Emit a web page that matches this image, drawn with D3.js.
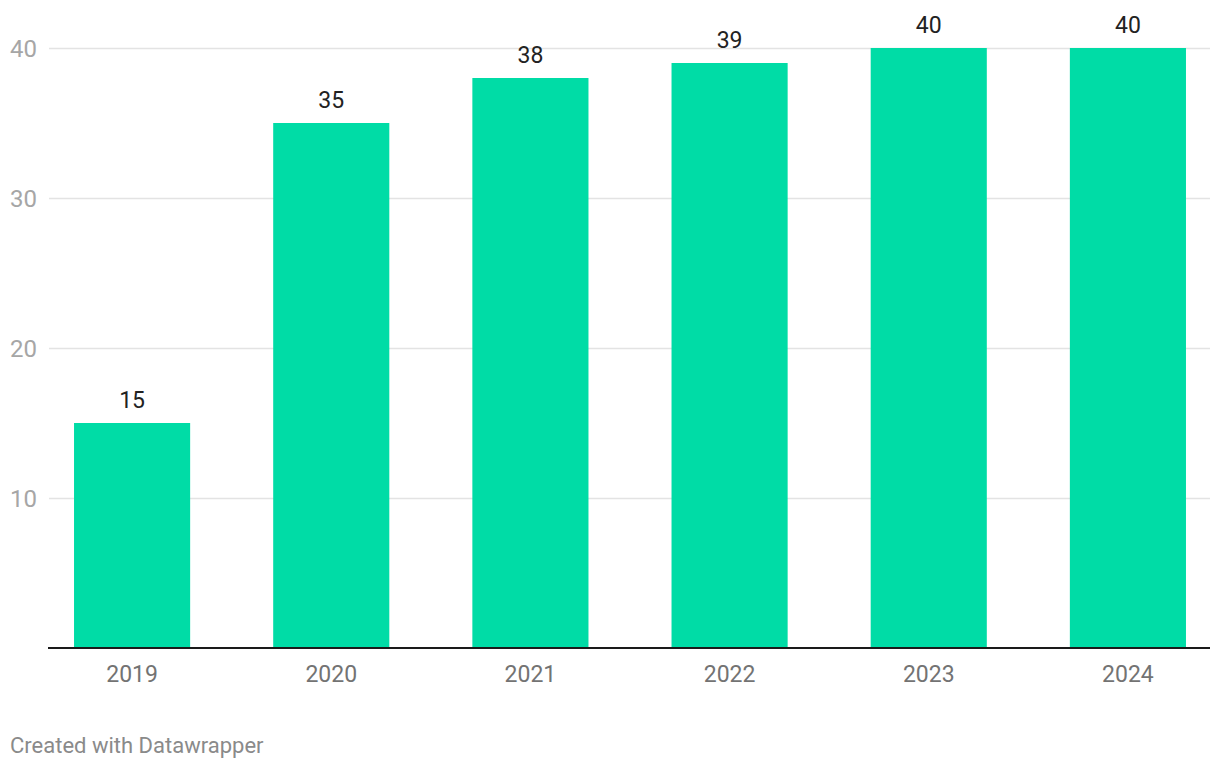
<!DOCTYPE html>
<html>
<head>
<meta charset="utf-8">
<script src="https://cdn.jsdelivr.net/npm/d3@7"></script>
<style>
  html, body { margin: 0; padding: 0; background: #fff; }
  svg { display: block; font-family: Roboto, "Noto Sans", sans-serif; }
</style>
</head>
<body>
<svg id="chart" width="1220" height="770"></svg>
<script>
const categories = ["2019", "2020", "2021", "2022", "2023", "2024"];
const values = [15, 35, 38, 39, 40, 40];
const yTicks = [10, 20, 30, 40];
const footerText = "Created with Datawrapper";

const svg = d3.select("#chart");
const plotLeft = 48, plotRight = 1210, plotTop = 48, plotBottom = 648;

const x = d3.scaleBand()
  .domain(categories)
  .range([plotLeft, plotRight + 2])
  .paddingInner(0.417)
  .paddingOuter(0.1307);

const y = d3.scaleLinear().domain([0, 40]).range([plotBottom, plotTop]);

// gridlines
svg.append("g")
  .selectAll("line")
  .data(yTicks)
  .join("line")
  .attr("x1", plotLeft + 1)
  .attr("x2", plotRight)
  .attr("y1", d => Math.round(y(d)) + 0.5)
  .attr("y2", d => Math.round(y(d)) + 0.5)
  .attr("stroke", "#e3e3e3")
  .attr("stroke-width", 1.5);

// y labels
svg.append("g")
  .selectAll("text")
  .data(yTicks)
  .join("text")
  .attr("x", 10)
  .attr("y", d => y(d) + 9)
  .attr("fill", "#a6a6a6")
  .attr("font-size", 24)
  .text(d => d);

// bars
svg.append("g")
  .selectAll("rect")
  .data(values)
  .join("rect")
  .attr("x", (d, i) => x(categories[i]))
  .attr("width", x.bandwidth())
  .attr("y", d => y(d))
  .attr("height", d => y(0) - y(d))
  .attr("fill", "#00dca6");

// value labels
svg.append("g")
  .selectAll("text")
  .data(values)
  .join("text")
  .attr("x", (d, i) => x(categories[i]) + x.bandwidth() / 2)
  .attr("y", d => y(d) - 15)
  .attr("text-anchor", "middle")
  .attr("fill", "#222")
  .attr("font-size", 23)
  .text(d => d);

// baseline
svg.append("line")
  .attr("x1", plotLeft)
  .attr("x2", plotRight)
  .attr("y1", y(0))
  .attr("y2", y(0))
  .attr("stroke", "#1a1a1a")
  .attr("stroke-width", 2);

// x labels
svg.append("g")
  .selectAll("text")
  .data(categories)
  .join("text")
  .attr("x", d => x(d) + x.bandwidth() / 2)
  .attr("y", 682)
  .attr("text-anchor", "middle")
  .attr("fill", "#737373")
  .attr("font-size", 23)
  .text(d => d);

// footer
svg.append("text")
  .attr("x", 10)
  .attr("y", 753)
  .attr("fill", "#8a8a8a")
  .attr("font-size", 22)
  .text(footerText);
</script>
</body>
</html>
